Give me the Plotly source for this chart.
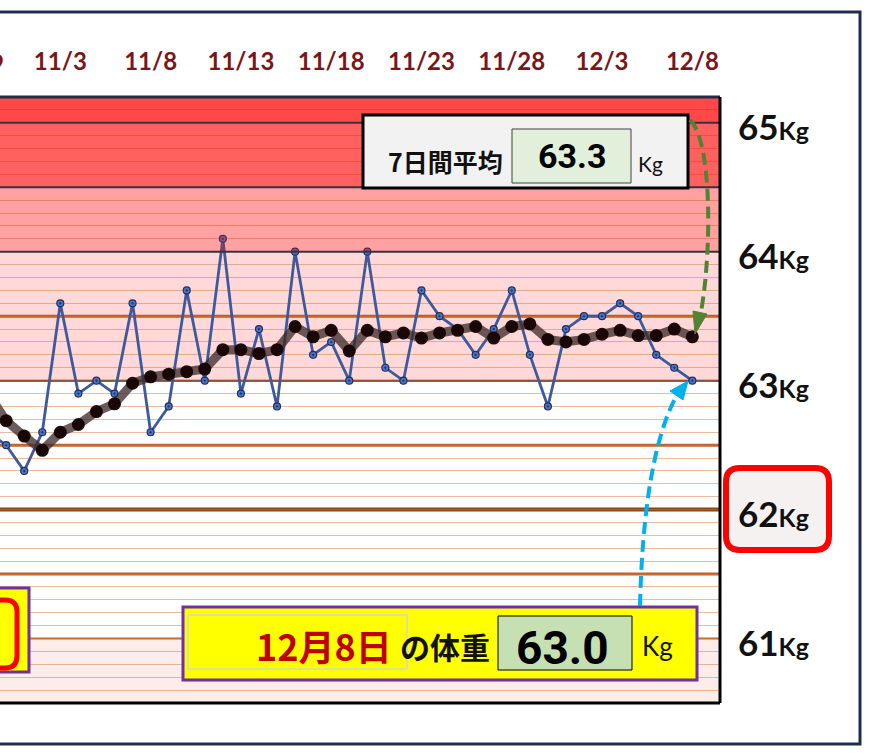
import plotly.graph_objects as go
import pandas as pd

# ---------------- data ----------------
dates = pd.date_range("2023-10-30", "2023-12-08", freq="D")
weight = [62.6, 62.5, 62.3, 62.6, 63.6, 62.9, 63.0, 62.9, 63.6, 62.6,
          62.8, 63.7, 63.0, 64.1, 62.9, 63.4, 62.8, 64.0, 63.2, 63.3,
          63.0, 64.0, 63.1, 63.0, 63.7, 63.5, 63.4, 63.2, 63.4, 63.7,
          63.2, 62.8, 63.4, 63.5, 63.5, 63.6, 63.5, 63.2, 63.1, 63.0]
avg7 = [62.90, 62.69, 62.57, 62.46, 62.60, 62.66, 62.76, 62.82, 62.98, 63.03,
        63.05, 63.07, 63.09, 63.24, 63.24, 63.21, 63.24, 63.42, 63.34, 63.39,
        63.23, 63.39, 63.34, 63.37, 63.33, 63.37, 63.39, 63.42, 63.33, 63.42,
        63.44, 63.32, 63.30, 63.32, 63.36, 63.39, 63.35, 63.35, 63.40, 63.34]
tick_dates = ["2023-10-29", "2023-11-03", "2023-11-08", "2023-11-13", "2023-11-18",
              "2023-11-23", "2023-11-28", "2023-12-03", "2023-12-08"]
tick_labels = ["10/29", "11/3", "11/8", "11/13", "11/18", "11/23", "11/28", "12/3", "12/8"]
kg_levels = [65, 64, 63, 62, 61]
avg_label = "63.3"
today_label = "12月8日"
today_value = "63.0"

# ---------------- layout geometry ----------------
W, H = 871, 753
L, R, T, B = 0, 151, 97, 50
PW, PH = W - L - R, H - T - B
x0 = pd.Timestamp("2023-10-30 15:50")
x1 = pd.Timestamp("2023-12-09 12:45")
y_range = [60.5, 65.2]


def px(xp):
    return (xp - L) / PW


def py(yp):
    return (H - B - yp) / PH


def P(xp, yp):
    return f"{px(xp):.5f},{py(yp):.5f}"


def date_frac(d):
    return (pd.Timestamp(d) - x0) / (x1 - x0)


def rrect(xa, ya, xb, yb, r):
    return (f"M {P(xa + r, ya)} L {P(xb - r, ya)} Q {P(xb, ya)} {P(xb, ya + r)} "
            f"L {P(xb, yb - r)} Q {P(xb, yb)} {P(xb - r, yb)} L {P(xa + r, yb)} "
            f"Q {P(xa, yb)} {P(xa, yb - r)} L {P(xa, ya + r)} Q {P(xa, ya)} {P(xa + r, ya)} Z")


fig = go.Figure()

fig.add_trace(go.Scatter(
    x=dates, y=weight, mode="lines+markers",
    line=dict(color="#3D5A9C", width=2.8),
    marker=dict(symbol="circle-dot", size=7, color="#4A74C4",
                line=dict(color="#1F2F5F", width=1.2)),
    showlegend=False, hoverinfo="skip"))
fig.add_trace(go.Scatter(
    x=dates, y=avg7, mode="lines+markers",
    line=dict(color="rgba(60,42,42,0.76)", width=9),
    marker=dict(size=13, color="rgba(22,3,3,0.96)"),
    showlegend=False, hoverinfo="skip"))

shapes = []
# background bands
shapes.append(dict(type="rect", xref="paper", yref="y", x0=0, x1=1, y0=60.5, y1=61.0,
                   fillcolor="#FCEDEB", line_width=0, layer="below"))
shapes.append(dict(type="rect", xref="paper", yref="y", x0=0, x1=1, y0=63.0, y1=65.2,
                   fillcolor="#FFD9D9", line_width=0, layer="below"))
# reference lines
for yv, col, w in [(61.0, "#C5651F", 2), (61.5, "#C0622A", 3), (62.0, "#8B4513", 4),
                   (62.5, "#C0622A", 3), (63.0, "#40303A", 2), (63.5, "#C55A11", 3)]:
    shapes.append(dict(type="line", xref="paper", yref="y", x0=0, x1=1, y0=yv, y1=yv,
                       line=dict(color=col, width=w), layer="between"))
# red overlays (above traces)
for ya, yb, a in [(64.0, 64.5, 0.27), (64.5, 65.0, 0.58), (65.0, 65.2, 0.70)]:
    shapes.append(dict(type="rect", xref="paper", yref="y", x0=0, x1=1, y0=ya, y1=yb,
                       fillcolor=f"rgba(255,10,10,{a})", line_width=0, layer="above"))
for yv in [64.0, 64.5, 65.0]:
    shapes.append(dict(type="line", xref="paper", yref="y", x0=0, x1=1, y0=yv, y1=yv,
                       line=dict(color="#3A3040", width=2), layer="above"))
# plot borders
shapes.append(dict(type="line", xref="paper", yref="paper", x0=0, x1=1, y0=1, y1=1,
                   line=dict(color="#1F2D4D", width=3), layer="above"))
shapes.append(dict(type="line", xref="paper", yref="paper", x0=1, x1=1, y0=0, y1=1,
                   line=dict(color="#000000", width=3), layer="above"))
shapes.append(dict(type="line", xref="paper", yref="paper", x0=0, x1=1, y0=0, y1=0,
                   line=dict(color="#000000", width=3), layer="above"))
# outer frame
shapes.append(dict(type="rect", xref="paper", yref="paper", x0=px(-10), x1=px(860),
                   y0=py(744), y1=py(12), line=dict(color="#1F2D4D", width=3),
                   fillcolor="rgba(0,0,0,0)", layer="above"))
# 7-day average box
shapes.append(dict(type="rect", xref="paper", yref="paper", x0=px(363), x1=px(688),
                   y0=py(188), y1=py(115), fillcolor="#F2F2F2",
                   line=dict(color="#000000", width=3), layer="above"))
shapes.append(dict(type="rect", xref="paper", yref="paper", x0=px(512), x1=px(631),
                   y0=py(183), y1=py(129), fillcolor="#E2EFDA",
                   line=dict(color="#404040", width=1), layer="above"))
# today's weight box
shapes.append(dict(type="rect", xref="paper", yref="paper", x0=px(183), x1=px(697),
                   y0=py(680), y1=py(607), fillcolor="#FFFF00",
                   line=dict(color="#7030A0", width=3), layer="above"))
shapes.append(dict(type="rect", xref="paper", yref="paper", x0=px(188), x1=px(407),
                   y0=py(669), y1=py(615), fillcolor="rgba(0,0,0,0)",
                   line=dict(color="#D4D8C4", width=1.5), layer="above"))
shapes.append(dict(type="rect", xref="paper", yref="paper", x0=px(498), x1=px(632),
                   y0=py(670), y1=py(616), fillcolor="#C6E0B4",
                   line=dict(color="#000000", width=1), layer="above"))
# left clipped box
shapes.append(dict(type="rect", xref="paper", yref="paper", x0=px(-10), x1=px(29),
                   y0=py(672), y1=py(588), fillcolor="#FFFF00",
                   line=dict(color="#7030A0", width=3), layer="above"))
shapes.append(dict(type="path", xref="paper", yref="paper", path=rrect(-60, 600, 17, 668, 12),
                   fillcolor="rgba(0,0,0,0)", line=dict(color="#FF0000", width=5), layer="above"))
# 62kg highlight box
shapes.append(dict(type="path", xref="paper", yref="paper", path=rrect(726, 468, 829, 550, 14),
                   fillcolor="#F6F1F1", line=dict(color="#FF0000", width=6), layer="above"))
# green dashed arrow
shapes.append(dict(type="path", xref="paper", yref="paper",
                   path=f"M {P(690, 120)} C {P(712, 140)} {P(712, 250)} {P(701, 312)}",
                   line=dict(color="#548235", width=4, dash="12px,6px"), layer="above"))
shapes.append(dict(type="path", xref="paper", yref="paper",
                   path=f"M {P(695, 334)} L {P(707, 314)} L {P(693, 311)} Z",
                   fillcolor="#548235", line=dict(color="#548235", width=1), layer="above"))
# cyan dashed arrow
shapes.append(dict(type="path", xref="paper", yref="paper",
                   path=f"M {P(640, 606)} C {P(642, 520)} {P(652, 440)} {P(677, 395)}",
                   line=dict(color="#00B0F0", width=4, dash="12px,6px"), layer="above"))
shapes.append(dict(type="path", xref="paper", yref="paper",
                   path=f"M {P(688, 381)} L {P(683, 400)} L {P(670, 391)} Z",
                   fillcolor="#00B0F0", line=dict(color="#00B0F0", width=1), layer="above"))

ann = []
date_font = dict(family="Lato, Open Sans, sans-serif", size=24, color="#7B1518", weight="bold")
# clipped first date label (out of axis range)
ann.append(dict(xref="paper", yref="paper", x=date_frac(tick_dates[0]), y=py(62),
                text=tick_labels[0], showarrow=False, font=date_font,
                xanchor="center", yanchor="middle"))
# kg labels
for v in kg_levels:
    ann.append(dict(xref="paper", yref="y", x=px(773), y=v, yshift=-3,
                    text=f"<b>{v}</b><b><span style='font-size:25px'>Kg</span></b>",
                    showarrow=False, xanchor="center", yanchor="middle",
                    font=dict(family="Lato, Open Sans, sans-serif", size=35, color="#111111")))
num_font = "Roboto, Liberation Sans Narrow, sans-serif"
jp = "Noto Sans CJK JP, Noto Sans CJK SC, sans-serif"
ann.append(dict(xref="paper", yref="paper", x=px(445), y=py(161), text="7日間平均",
                showarrow=False, xanchor="center", yanchor="middle",
                font=dict(family=jp, size=25, color="#111111", weight="bold")))
ann.append(dict(xref="paper", yref="paper", x=px(572), y=py(156), text=avg_label,
                showarrow=False, xanchor="center", yanchor="middle",
                font=dict(family=num_font, size=34, color="#000000", weight="bold")))
ann.append(dict(xref="paper", yref="paper", x=px(650), y=py(163), text="Kg",
                showarrow=False, xanchor="center", yanchor="middle",
                font=dict(family="Lato, sans-serif", size=21, color="#111111")))
ann.append(dict(xref="paper", yref="paper", x=px(394), y=py(645), text=today_label,
                showarrow=False, xanchor="right", yanchor="middle",
                font=dict(family=jp, size=36, color="#C00000", weight="bold")))
ann.append(dict(xref="paper", yref="paper", x=px(398), y=py(646), text="の体重",
                showarrow=False, xanchor="left", yanchor="middle",
                font=dict(family=jp, size=30, color="#111111", weight="bold")))
ann.append(dict(xref="paper", yref="paper", x=px(562), y=py(648), text=today_value,
                showarrow=False, xanchor="center", yanchor="middle",
                font=dict(family=num_font, size=46, color="#000000", weight="bold")))
ann.append(dict(xref="paper", yref="paper", x=px(657), y=py(646), text="Kg",
                showarrow=False, xanchor="center", yanchor="middle",
                font=dict(family="Lato, sans-serif", size=26, color="#111111")))

fig.update_layout(
    width=W, height=H, margin=dict(l=L, r=R, t=T, b=B),
    paper_bgcolor="#FFFFFF", plot_bgcolor="#FFFFFF",
    shapes=shapes, annotations=ann, showlegend=False,
    xaxis=dict(type="date", range=[x0, x1], side="top", showgrid=False, zeroline=False,
               showline=False, ticks="", tickmode="array",
               tickvals=tick_dates[1:], ticktext=tick_labels[1:],
               tickfont=date_font, ticklabelstandoff=21),
    yaxis=dict(range=y_range, showgrid=True, gridcolor="rgba(214,120,60,0.5)", gridwidth=1,
               tick0=60.5, dtick=0.1, showticklabels=False, zeroline=False, showline=False,
               ticks=""),
)

fig.write_html("out.html")
